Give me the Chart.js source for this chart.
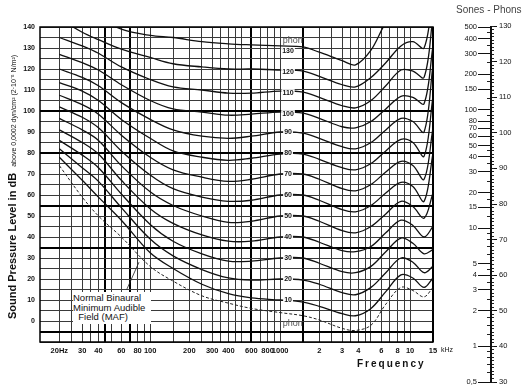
<!DOCTYPE html>
<html>
<head>
<meta charset="utf-8">
<script src="https://cdn.jsdelivr.net/npm/chart.js@4.4.1/dist/chart.umd.min.js"></script>
<style>
  html, body { margin: 0; padding: 0; background: #fff; }
  #wrap { position: relative; width: 530px; height: 389px; overflow: hidden; font-family: "Liberation Sans", Arial, sans-serif; }
  #main { position: absolute; left: 0; top: 0; }
  #scale { position: absolute; left: 440px; top: 0; }
  .txt { position: absolute; white-space: nowrap; color: #111; }
  #ytitle { left: -133px; top: 167px; width: 290px; height: 14px; line-height: 14px; transform: rotate(-90deg); font-size: 11px; font-weight: bold; }
  #ytitle span { font-size: 7px; font-weight: normal; }
  #maf { left: 73px; top: 292px; width: 78px; font-size: 9.5px; line-height: 9.5px; background: #fff; padding: 1px 0 2px 0; }
  #freq { left: 357px; top: 358px; font-size: 10px; font-weight: bold; letter-spacing: 2px; }
  #khz { left: 441px; top: 346px; font-size: 7px; }
  #sp { left: 456px; top: 4px; font-size: 10px; color: #444; }
</style>
</head>
<body>
<div id="wrap">
  <canvas id="main" width="530" height="389"></canvas>
  <canvas id="scale" width="90" height="389"></canvas>
  <div class="txt" id="ytitle">Sound Pressure Level in dB &nbsp;<span>above 0,0002 dyn/cm² (2·10⁻⁵ N/m²)</span></div>
  <div class="txt" id="maf">Normal Binaural<br>Minimum Audible<br>&nbsp;&nbsp;Field (MAF)</div>
  <div class="txt" id="freq">Frequency</div>
  <div class="txt" id="khz">kHz</div>
  <div class="txt" id="sp">Sones - Phons</div>
</div>
<script>
// frequencies (Hz) where the contours are read
const freqs = [20, 30, 40, 60, 100, 150, 250, 400, 600, 1000, 1500, 2000, 3000, 3800, 5000, 6500, 8500, 10500, 12800, 15000];

const phonLevels = [130, 120, 110, 100, 90, 80, 70, 60, 50, 40, 30, 20, 10];

// sound pressure level (dB) of each equal-loudness contour
const phon130 = [165, 152, 145, 139, 136, 135, 133, 132, 131.5, 131, 130.5, 128, 124, 122, 129, 142, 150, 150, 150, 165];
const phon120 = [144, 137.5, 134, 129.5, 125.5, 122.5, 121, 120, 120, 119.5, 119, 116.5, 112.5, 111.5, 116, 123, 131, 133, 130, 155];
const phon110 = [135, 131, 127.5, 121, 115, 111.5, 110, 108.5, 108.5, 109.5, 109, 106.5, 102.5, 101.5, 105, 112, 119.5, 119, 116, 145];
const phon100 = [127, 123, 119.5, 112.5, 105, 101, 99.5, 98, 98.5, 99.5, 99, 96.5, 92.5, 92, 95, 101, 107, 106.5, 103.5, 131];
const phon90 = [120, 116, 112, 104, 96, 91, 88, 87, 88, 90, 89.5, 87, 83, 82, 85, 91, 96.5, 95, 90, 122];
const phon80 = [113.5, 109.5, 105, 96, 87, 81, 78, 76.5, 77.5, 79.5, 79.5, 77, 73, 72, 75, 81, 86.5, 85, 78.5, 107];
const phon70 = [107.5, 103, 98.5, 88.5, 78, 72, 68.5, 66.5, 67.5, 70, 70, 67.5, 63, 62, 65, 71, 76, 74, 67.5, 92];
const phon60 = [102, 97, 92, 81, 69.5, 63, 59, 57, 57.5, 60, 60, 57.5, 53, 52, 55, 61, 66, 64, 57, 80];
const phon50 = [96.5, 91, 86, 74, 61.5, 55, 50, 47, 47.5, 50, 50, 47.5, 43, 42, 45, 51, 57, 54.5, 49, 61];
const phon40 = [91, 85, 79.5, 67, 53.5, 46.5, 41, 38, 38, 40, 40, 37.5, 33.5, 33, 35.5, 42, 48, 45.5, 40, 45];
const phon30 = [86, 79, 73, 60.5, 46, 38, 32, 28.5, 28.5, 30, 30, 27.5, 23.5, 23, 26, 33, 39.5, 37, 32, 34];
const phon20 = [82, 73, 66.5, 54, 39, 31, 24.5, 20.5, 19.5, 20, 19.5, 17.5, 13.5, 12.5, 16, 23, 30, 28, 23, 26];
const phon10 = [78, 67, 59, 48, 32.5, 25, 17.5, 13, 11, 10, 9, 7, 3.5, 2.5, 6, 14, 22, 20.5, 16, 20.5];
// minimum audible field (dashed)
const mafValues = [74, 59, 50, 40, 26, 19, 12, 8.5, 6, 4, 2.5, 0.5, -3.5, -4.5, -2, 8, 16, 14.5, 11.5, 16];

// axis ticks
const xGridFreqs = [20, 25, 30, 35, 40, 45, 50, 60, 70, 80, 90, 100, 150, 200, 250, 300, 350, 400, 450, 500,
  600, 700, 800, 900, 1000, 1500, 2000, 2500, 3000, 3500, 4000, 4500, 5000, 6000, 7000, 8000, 9000, 10000, 15000];
const xLabelFreqs = [20, 30, 40, 60, 80, 100, 200, 300, 400, 600, 800, 1000, 2000, 3000, 4000, 6000, 8000, 10000, 15000];
const xLabelTexts = ['20Hz', '30', '40', '60', '80', '100', '200', '300', '400', '600', '800', '1000', '2', '3', '4', '6', '8', '10', '15'];
const xThick = [45, 70, 600, 1500, 15000];
const yThick = [100, 80, 55, 35, -5];

const soneLabelVals = [0.5, 1, 2, 3, 4, 5, 10, 15, 20, 30, 40, 50, 60, 70, 80, 100, 150, 200, 300, 400, 500];
const soneMinorVals = [0.6, 0.7, 0.8, 0.9, 1.25, 1.5, 1.75, 2.5, 3.5, 4.5, 6, 7, 8, 9, 12.5, 17.5, 25, 35, 45, 90, 125, 175, 250, 350, 450];

const FONT = '"Liberation Sans", Arial, sans-serif';
const curves = [phon130, phon120, phon110, phon100, phon90, phon80, phon70, phon60, phon50, phon40, phon30, phon20, phon10];

const datasets = curves.map((vals, i) => ({
  label: phonLevels[i] + ' phon',
  data: freqs.map((f, j) => ({ x: f, y: vals[j] })),
  borderColor: '#111',
  borderWidth: 1.3,
  pointRadius: 0,
  tension: 0.35,
  fill: false
}));
datasets.push({
  label: 'MAF',
  data: freqs.map((f, j) => ({ x: f, y: mafValues[j] })),
  borderColor: '#222',
  borderWidth: 1,
  borderDash: [3, 2],
  pointRadius: 0,
  tension: 0.35,
  fill: false
});

// frame around the plot + phon labels + MAF pointer
const decorPlugin = {
  id: 'decor',
  afterDatasetsDraw(chart) {
    const { ctx, chartArea: a } = chart;
    const xs = chart.scales.x, ys = chart.scales.y;
    ctx.save();
    ctx.strokeStyle = '#000';
    ctx.lineWidth = 1.5;
    ctx.strokeRect(a.left, a.top, a.right - a.left, a.bottom - a.top);

    ctx.font = 'bold 7px ' + FONT;
    ctx.textAlign = 'center';
    ctx.textBaseline = 'middle';
    phonLevels.forEach(p => {
      const px = xs.getPixelForValue(1150);
      const py = ys.getPixelForValue(p >= 100 ? p - 1.5 : p);
      const w = ctx.measureText(String(p)).width + 2;
      ctx.fillStyle = '#fff';
      ctx.fillRect(px - w / 2, py - 4, w, 8);
      ctx.fillStyle = '#111';
      ctx.fillText(String(p), px, py);
    });

    ctx.font = '9px ' + FONT;
    ctx.fillStyle = '#555';
    ctx.fillText('phon', xs.getPixelForValue(1250), ys.getPixelForValue(133.5));
    ctx.fillText('phon', xs.getPixelForValue(1250), ys.getPixelForValue(-1));

    ctx.strokeStyle = '#222';
    ctx.lineWidth = 0.8;
    ctx.beginPath();
    ctx.moveTo(xs.getPixelForValue(66), ys.getPixelForValue(15));
    ctx.lineTo(xs.getPixelForValue(82), ys.getPixelForValue(28));
    ctx.stroke();
    ctx.restore();
  }
};

new Chart(document.getElementById('main'), {
  type: 'line',
  data: { datasets: datasets },
  options: {
    responsive: false,
    animation: false,
    events: [],
    layout: { padding: { left: 0, right: 97, top: 27, bottom: 0 } },
    plugins: { legend: { display: false }, tooltip: { enabled: false } },
    scales: {
      x: {
        type: 'logarithmic',
        min: 14.2,
        max: 15000,
        afterBuildTicks: s => { s.ticks = xGridFreqs.map(v => ({ value: v })); },
        afterFit: s => { s.height = 47; },
        ticks: {
          autoSkip: false,
          maxRotation: 0,
          padding: 4,
          color: '#111',
          font: { size: 7.5, weight: 'bold', family: FONT },
          callback: v => {
            const k = xLabelFreqs.indexOf(v);
            return k < 0 ? '' : xLabelTexts[k];
          }
        },
        grid: {
          drawTicks: false,
          color: ctx => xThick.includes(ctx.tick && ctx.tick.value) ? '#000' : '#3a3a3a',
          lineWidth: ctx => xThick.includes(ctx.tick && ctx.tick.value) ? 2 : 1
        },
        border: { display: false }
      },
      y: {
        min: -10,
        max: 140,
        afterFit: s => { s.width = 40; },
        ticks: {
          stepSize: 5,
          autoSkip: false,
          padding: 5,
          color: '#111',
          font: { size: 7, weight: 'bold', family: FONT },
          callback: v => (v >= 0 && v % 10 === 0) ? v : ''
        },
        grid: {
          drawTicks: false,
          color: ctx => yThick.includes(ctx.tick && ctx.tick.value) ? '#000' : '#3a3a3a',
          lineWidth: ctx => yThick.includes(ctx.tick && ctx.tick.value) ? 2 : 1
        },
        border: { display: false }
      }
    }
  },
  plugins: [decorPlugin]
});

// sones - phons side scale
const sideFont = { size: 7.5, family: FONT };
new Chart(document.getElementById('scale'), {
  type: 'line',
  data: { datasets: [] },
  options: {
    responsive: false,
    animation: false,
    events: [],
    layout: { padding: { left: 0, right: 0, top: 26, bottom: 7 } },
    plugins: { legend: { display: false }, tooltip: { enabled: false } },
    scales: {
      x: { display: false },
      sones: {
        axis: 'y', type: 'logarithmic', position: 'left', weight: 1, min: 0.5, max: 512,
        afterBuildTicks: s => { s.ticks = soneLabelVals.map(v => ({ value: v })); },
        afterFit: s => { s.width = 50; },
        ticks: { autoSkip: false, padding: 1, color: '#111', font: sideFont,
          callback: v => v === 0.5 ? '0,5' : String(v) },
        grid: { drawOnChartArea: false, tickLength: 12, color: '#111' },
        border: { display: true, color: '#111', width: 1 }
      },
      sonesMinor: {
        axis: 'y', type: 'logarithmic', position: 'left', weight: 0, min: 0.5, max: 512,
        afterBuildTicks: s => { s.ticks = soneMinorVals.map(v => ({ value: v })); },
        afterFit: s => { s.width = 0; },
        ticks: { display: false, autoSkip: false },
        grid: { drawOnChartArea: false, tickLength: 3, color: '#222' },
        border: { display: false }
      },
      phons: {
        axis: 'y', type: 'linear', position: 'right', weight: 1, min: 30, max: 130,
        afterFit: s => { s.width = 39; },
        ticks: { stepSize: 10, autoSkip: false, padding: 2, color: '#111', font: sideFont },
        grid: { drawOnChartArea: false, tickLength: 6, color: '#111' },
        border: { display: true, color: '#111', width: 1 }
      },
      phonsMinor: {
        axis: 'y', type: 'linear', position: 'right', weight: 0, min: 30, max: 130,
        afterFit: s => { s.width = 0; },
        ticks: { stepSize: 1, display: false, autoSkip: false },
        grid: { drawOnChartArea: false, tickLength: 3, color: '#222' },
        border: { display: false }
      }
    }
  }
});
</script>
</body>
</html>
